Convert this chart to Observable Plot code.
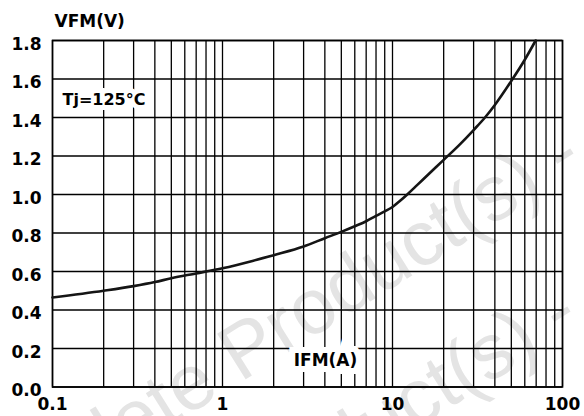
<!DOCTYPE html>
<html><head><meta charset="utf-8">
<script src="https://cdn.jsdelivr.net/npm/d3@7"></script>
<script src="https://cdn.jsdelivr.net/npm/@observablehq/plot@0.6"></script>
<style>html,body{margin:0;padding:0;background:#fff}svg{display:block}</style>
</head><body><div id="chart"></div>
<script>
// Forward current IFM (A) and forward voltage VFM (V) at Tj = 125 °C
const ifm = [0.1, 0.2, 0.3, 0.4, 0.5, 0.7, 1, 1.5, 2, 3, 4, 5, 6, 7, 8, 9, 10, 11, 12.3, 14, 16, 20, 25, 30, 35, 40, 50, 60, 69.5];
const vfm = [0.465, 0.50, 0.524, 0.545, 0.565, 0.59, 0.617, 0.655, 0.685, 0.73, 0.773, 0.806, 0.835, 0.861, 0.889, 0.912, 0.935, 0.965, 1.003, 1.05, 1.099, 1.18, 1.262, 1.335, 1.40, 1.465, 1.59, 1.70, 1.80];

const xTicks = [0.1, 1, 10, 100];
const xTickLabels = ["0.1", "1", "10", "100"];
const yTicks = [0, 0.2, 0.4, 0.6, 0.8, 1.0, 1.2, 1.4, 1.6, 1.8];
const yTickLabels = ["0.0", "0.2", "0.4", "0.6", "0.8", "1.0", "1.2", "1.4", "1.6", "1.8"];
const yTitle = "VFM(V)";
const xTitle = "IFM(A)";
const note = "Tj=125°C";
const watermark = "Obsolete Product(s) - Obsolete Product(s)";

const font = "'DejaVu Sans', sans-serif";
const data = ifm.map((x, i) => ({x, y: vfm[i]}));
const xGrid = [0.1, 1, 10].flatMap(d => [1,2,3,4,5,6,7,8,9].map(k => +(k * d).toPrecision(3))).concat([100]);

const wmStyle = {frameAnchor: "top-left", textAnchor: "middle", lineAnchor: "middle", rotate: -32, fontSize: 78,
  fontFamily: "'Liberation Sans', Arial, sans-serif", fontWeight: "normal", fill: "#e4e4e4"};

const chart = Plot.plot({
  width: 584, height: 416,
  marginLeft: 52, marginRight: 22, marginTop: 40, marginBottom: 29.5,
  style: {fontFamily: font, fontWeight: "bold", fontSize: "17px", color: "#000", background: "#fff", overflow: "visible"},
  x: {type: "log", domain: [0.1, 100]},
  y: {domain: [0, 1.8]},
  marks: [
    Plot.text([watermark], {...wmStyle, dx: 509, dy: 112}),
    Plot.text([watermark], {...wmStyle, dx: 506, dy: 270}),
    Plot.gridX(xGrid, {stroke: "#000", strokeOpacity: 1, strokeWidth: 1.3}),
    Plot.gridY(yTicks, {stroke: "#000", strokeOpacity: 1, strokeWidth: 1.3}),
    Plot.frame({stroke: "#000", strokeWidth: 1.6}),
    Plot.line(data, {x: "x", y: "y", stroke: "#151515", strokeWidth: 2.6, curve: "monotone-x"}),
    Plot.axisX(xTicks, {tickSize: 0, tickPadding: 11, fontSize: 17, fontWeight: "bold",
      tickFormat: d => xTickLabels[xTicks.indexOf(d)], label: null}),
    Plot.axisY(yTicks, {tickSize: 0, tickPadding: 11, dy: 4, fontSize: 17, fontWeight: "bold",
      tickFormat: d => yTickLabels[yTicks.indexOf(d)], label: null}),
    Plot.text([yTitle], {frameAnchor: "top-left", textAnchor: "start", lineAnchor: "middle",
      dx: 2, dy: -18.5, fontSize: 17, fontWeight: "bold", fill: "#000"}),
    Plot.text([note], {frameAnchor: "top-left", textAnchor: "start", lineAnchor: "middle",
      dx: 10, dy: 59, fontSize: 16, fontWeight: "bold", fill: "#000",
      stroke: "#fff", strokeWidth: 10, strokeLinejoin: "miter", paintOrder: "stroke"}),
    Plot.text([xTitle], {frameAnchor: "bottom", textAnchor: "middle", lineAnchor: "middle",
      dx: 18, dy: -26, fontSize: 17, fontWeight: "bold", fill: "#000",
      stroke: "#fff", strokeWidth: 12, strokeLinejoin: "miter", paintOrder: "stroke"})
  ]
});
document.getElementById("chart").appendChild(chart);
</script>
</body></html>
